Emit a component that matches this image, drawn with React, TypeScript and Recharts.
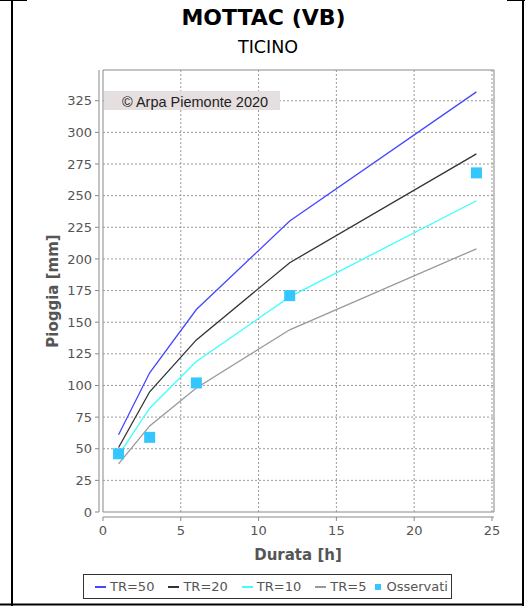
import React from 'react';
import { ComposedChart, Line, Scatter, XAxis, YAxis, ReferenceLine, ReferenceArea, Legend } from 'recharts';

// ---- data ----
const durations = [1, 3, 6, 12, 24];
const tr50 = [61, 110, 160, 230, 332];
const tr20 = [51, 95, 136, 197, 283];
const tr10 = [45, 82, 119, 170, 246];
const tr5 = [38, 68, 98, 144, 208];
const observed = [46, 59, 102, 171, 268];

const xTicks = [0, 5, 10, 15, 20, 25];
const yTicks = [0, 25, 50, 75, 100, 125, 150, 175, 200, 225, 250, 275, 300, 325];

const titleText = 'MOTTAC (VB)';
const subtitleText = 'TICINO';
const xLabel = 'Durata [h]';
const yLabel = 'Pioggia [mm]';
const annotationText = '© Arpa Piemonte 2020';

const seriesDefs = [
  { key: 'tr50', name: 'TR=50', color: '#4646FF', values: tr50 },
  { key: 'tr20', name: 'TR=20', color: '#333333', values: tr20 },
  { key: 'tr10', name: 'TR=10', color: '#3CFFFF', values: tr10 },
  { key: 'tr5', name: 'TR=5', color: '#999999', values: tr5 },
];
const obsDef = { key: 'obs', name: 'Osservati', color: '#33C6FF' };

const rows = durations.map((d, i) => {
  const r: Record<string, number> = { d, obs: observed[i] };
  seriesDefs.forEach((s) => {
    r[s.key] = s.values[i];
  });
  return r;
});

// axis domains (frame starts at 0, axis lines offset outside)
const X_MIN = -0.257;
const X_MAX = 25.13;
const Y_MIN = -3.95;
const Y_MAX = 349.3;

const FONT = '"DejaVu Sans", Verdana, sans-serif';
const GRID = '#9a9a9a';
const AXIS = '#888888';

const SquareShape = (props: any) => {
  const { cx, cy } = props;
  if (cx == null || cy == null) return null;
  return <rect x={cx - 5.5} y={cy - 5.5} width={11} height={11} fill={obsDef.color} />;
};

const LegendContent = () => (
  <div
    style={{
      boxSizing: 'border-box',
      width: 369,
      height: 25,
      border: '1px solid #333',
      display: 'flex',
      alignItems: 'center',
      paddingLeft: 11,
      fontFamily: FONT,
      fontSize: 13,
      color: '#555',
      whiteSpace: 'nowrap',
    }}
  >
    {seriesDefs.map((s, i) => (
      <span key={s.key} style={{ display: 'flex', alignItems: 'center', marginRight: i === 3 ? 9 : 14 }}>
        <span style={{ display: 'inline-block', width: 11, height: 2, background: s.color, marginRight: 4 }} />
        <span>{s.name}</span>
      </span>
    ))}
    <span style={{ display: 'flex', alignItems: 'center' }}>
      <span style={{ display: 'inline-block', width: 6, height: 6, background: obsDef.color, marginRight: 5 }} />
      <span>{obsDef.name}</span>
    </span>
  </div>
);

export default function App() {
  return (
    <div style={{ position: 'absolute', left: 0, top: 0, width: 525, height: 606, background: '#fff' }}>
      <ComposedChart
        width={525}
        height={606}
        data={rows}
        margin={{ top: 70, right: 31, bottom: 59, left: 0 }}
      >
        <XAxis
          type="number"
          dataKey="d"
          domain={[X_MIN, X_MAX]}
          ticks={xTicks}
          allowDataOverflow
          height={30}
          axisLine={false}
          tickLine={{ stroke: AXIS }}
          tickSize={4}
          tickMargin={5}
          tick={{ fill: '#555', fontSize: 13, fontFamily: FONT }}
          interval={0}
        />
        <YAxis
          type="number"
          domain={[Y_MIN, Y_MAX]}
          ticks={yTicks}
          allowDataOverflow
          width={99}
          axisLine={false}
          tickLine={{ stroke: AXIS }}
          tickSize={4}
          tickMargin={3}
          tick={{ fill: '#555', fontSize: 13, fontFamily: FONT }}
          interval={0}
        />
        {yTicks.filter((v) => v > 0).map((v) => (
          <ReferenceLine
            key={'gy' + v}
            segment={[{ x: 0, y: v }, { x: X_MAX, y: v }]}
            stroke={GRID}
            strokeDasharray="2 2"
            ifOverflow="visible"
          />
        ))}
        {xTicks.filter((v) => v > 0).map((v) => (
          <ReferenceLine
            key={'gx' + v}
            segment={[{ x: v, y: 0 }, { x: v, y: Y_MAX }]}
            stroke={GRID}
            strokeDasharray="2 2"
            ifOverflow="visible"
          />
        ))}
        <ReferenceArea
          x1={0}
          x2={X_MAX}
          y1={0}
          y2={Y_MAX}
          fill="none"
          stroke={AXIS}
          strokeWidth={1}
          ifOverflow="visible"
        />
        <ReferenceLine
          segment={[{ x: X_MIN, y: 0 }, { x: X_MIN, y: Y_MAX }]}
          stroke={AXIS}
          ifOverflow="visible"
        />
        <ReferenceLine
          segment={[{ x: 0, y: Y_MIN }, { x: X_MAX, y: Y_MIN }]}
          stroke={AXIS}
          ifOverflow="visible"
        />
        {seriesDefs.map((s) => (
          <Line
            key={s.key}
            type="linear"
            dataKey={s.key}
            name={s.name}
            stroke={s.color}
            strokeWidth={1.3}
            dot={false}
            activeDot={false}
            isAnimationActive={false}
          />
        ))}
        <Scatter
          dataKey="obs"
          name={obsDef.name}
          fill={obsDef.color}
          shape={SquareShape}
          isAnimationActive={false}
        />
        <Legend
          layout="horizontal"
          verticalAlign="middle"
          align="center"
          content={LegendContent}
          wrapperStyle={{ position: 'absolute', left: 83, top: 574, width: 369, height: 25 }}
        />
      </ComposedChart>
      <svg
        width={525}
        height={606}
        style={{ position: 'absolute', left: 0, top: 0, pointerEvents: 'none' }}
      >
        <line x1={0} y1={0.5} x2={27} y2={0.5} stroke="#000" strokeWidth={1} />
        <line x1={507} y1={0.5} x2={525} y2={0.5} stroke="#000" strokeWidth={1} />
        <line x1={12} y1={0} x2={12} y2={606} stroke="#000" strokeWidth={2} />
        <line x1={523} y1={0} x2={523} y2={606} stroke="#000" strokeWidth={2} />
        <line x1={0} y1={604.5} x2={523} y2={604.5} stroke="#000" strokeWidth={2} />
        <text x={263.5} y={25} textAnchor="middle" fontFamily={FONT} fontWeight="bold" fontSize={22} fill="#000">
          {titleText}
        </text>
        <text x={268} y={53} textAnchor="middle" fontFamily={FONT} fontSize={17.5} fill="#000">
          {subtitleText}
        </text>
        <text
          x={0}
          y={0}
          transform="translate(57.5 291) rotate(-90)"
          textAnchor="middle"
          fontFamily={FONT}
          fontWeight="bold"
          fontSize={15}
          fill="#555"
        >
          {yLabel}
        </text>
        <text x={298} y={560} textAnchor="middle" fontFamily={FONT} fontWeight="bold" fontSize={15} fill="#555">
          {xLabel}
        </text>
        <rect x={104} y={91} width={176} height={19} fill="#E6DFE0" />
        <text x={122} y={106.5} fontFamily='"Liberation Sans", Arial, sans-serif' fontSize={14.5} fill="#222">
          {annotationText}
        </text>
      </svg>
    </div>
  );
}
